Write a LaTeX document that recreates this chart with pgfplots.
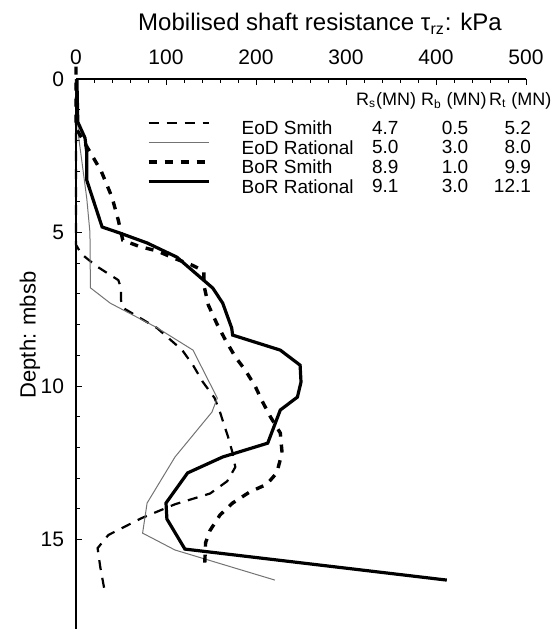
\documentclass[border=0pt]{standalone}
\usepackage{fontspec}
\setmainfont{Liberation Sans}
\usepackage{pgfplots}
\pgfplotsset{compat=1.18}

\begin{document}
\begin{tikzpicture}
\begin{axis}[
    at={(0,0)}, anchor=north west,
    scale only axis,
    width=225pt, height=274.8pt,
    xmin=0, xmax=500,
    ymin=0, ymax=17.9,
    y dir=reverse,
    clip=false,
    axis x line*=top,
    axis y line*=left,
    axis line style={-, line width=0.6pt},
    tick align=inside,
    tick style={black, line width=0.5pt},
    major tick length=3pt,
    minor tick length=2pt,
    xtick={0,100,...,500},
    ytick={0,5,10,15},
    minor x tick num=4,
    minor y tick num=4,
    /pgf/number format/assume math mode=true,
    tick label style={font=\fontsize{10.5}{12}\selectfont},
    xticklabel style={yshift=3.5pt},
    yticklabel style={xshift=-2.5pt},
    legend cell align=left,
    legend image code/.code={
        \path[draw=none, fill=none] (0pt,0pt) rectangle (46.5pt,1pt);
        \draw[#1] (0pt,3.4pt) -- (30pt,3.4pt);
    },
    legend style={
        at={(axis cs:78.9,1.365)}, anchor=north west,
        draw=none, fill=none, inner sep=0pt, outer sep=0pt,
        font=\fontsize{9.5}{11}\selectfont,
        row sep=0.95pt,
        nodes={inner sep=0pt, text height=6.8pt, text depth=2pt},
    },
]
% EoD Smith
\addplot[black, line width=1.1pt, dash pattern=on 5pt off 4pt] coordinates {
    (0,0) (0,5.4) (6,5.7) (23,6.1) (47,6.55) (50,6.8) (50,7.2) (52,7.45)
    (90,8.11) (118,8.83) (130,9.32) (141,9.87) (154,10.39) (160,10.85)
    (169,11.66) (174,12.18) (177,12.64) (168,13.1) (149,13.5) (110,13.85)
    (73,14.3) (36,14.85) (24,15.28) (27,15.9) (32,16.7)
};
\addlegendentry{EoD Smith}

% EoD Rational
\addplot[black!55, line width=0.5pt] coordinates {
    (0,0) (1,1.0) (3,1.9) (12,3.9) (15.5,5.0) (16,6.8) (38,7.3) (90,8.1)
    (130,8.83) (157,10.39) (151,10.85) (110,12.31) (79,13.81) (74,14.79)
    (110,15.34) (221,16.32)
};
\addlegendentry{EoD Rational}

% BoR Smith
\addplot[black, line width=1.7pt, dash pattern=on 4pt off 4pt] coordinates {
    (0,-0.4) (0,1.6) (7,1.95) (17,2.45) (28,3.0) (40,3.85) (47,4.6) (52,5.25)
    (70,5.45) (90,5.6) (110,5.85) (128,6.05) (142,6.25) (142,6.7) (147,7.36)
    (157,8.0) (166,8.5) (177,9.05) (188,9.48) (199,10.0) (207,10.5) (216,11.0)
    (227,11.53) (229,12.18) (223,12.83) (212,13.2) (193,13.45) (174,13.81)
    (160,14.2) (149,14.7) (144,15.1) (143,15.8)
};
\addlegendentry{BoR Smith}

% BoR Rational
\addplot[black, line width=1.6pt] coordinates {
    (1,0) (2,1.4) (10,1.92) (12,2.4) (12,3.3) (29,4.82) (49,5.02) (79,5.34)
    (112,5.80) (152,6.81) (163,7.30) (173,8.11) (174,8.34) (227,8.83)
    (249,9.32) (250,9.87) (246,10.36) (227,10.78) (213,11.86) (163,12.31)
    (124,12.83) (100,13.81) (101,14.33) (121,15.31) (412,16.32)
};
\addlegendentry{BoR Rational}
\end{axis}

% title and depth label
\node[anchor=base, font=\fontsize{12}{14}\selectfont] at (122pt,24pt)
    {Mobilised shaft resistance τ\textsubscript{rz}: kPa};
\node[rotate=90, font=\fontsize{11}{13}\selectfont] at (-23pt,-128pt) {Depth: mbsb};

% capacity table
\begin{scope}[font=\fontsize{9}{11}\selectfont]
\node[anchor=base west] at (136.5pt,-13.5pt) {R\textsubscript{s}(MN)};
\node[anchor=base west] at (169pt,-13.5pt) {R\textsubscript{b} (MN)};
\node[anchor=base west] at (203pt,-13.5pt) {R\textsubscript{t} (MN)};
\end{scope}
\begin{scope}[font=\fontsize{9.5}{11}\selectfont]
\foreach \y/\rs/\rb/\rt in {-27.75/4.7/0.5/5.2, -37.5/5.0/3.0/8.0,
                            -47.25/8.9/1.0/9.9, -57.0/9.1/3.0/12.1} {
    \node[anchor=base west] at (144.5pt,\y pt) {\rs};
    \node[anchor=base] at (189.5pt,\y pt) {\rb};
    \node[anchor=base east] at (231pt,\y pt) {\rt};
}
\end{scope}

\pgfresetboundingbox
\path[use as bounding box] (-38pt,-275.5pt) rectangle (239pt,39.5pt);
\end{tikzpicture}
\end{document}
